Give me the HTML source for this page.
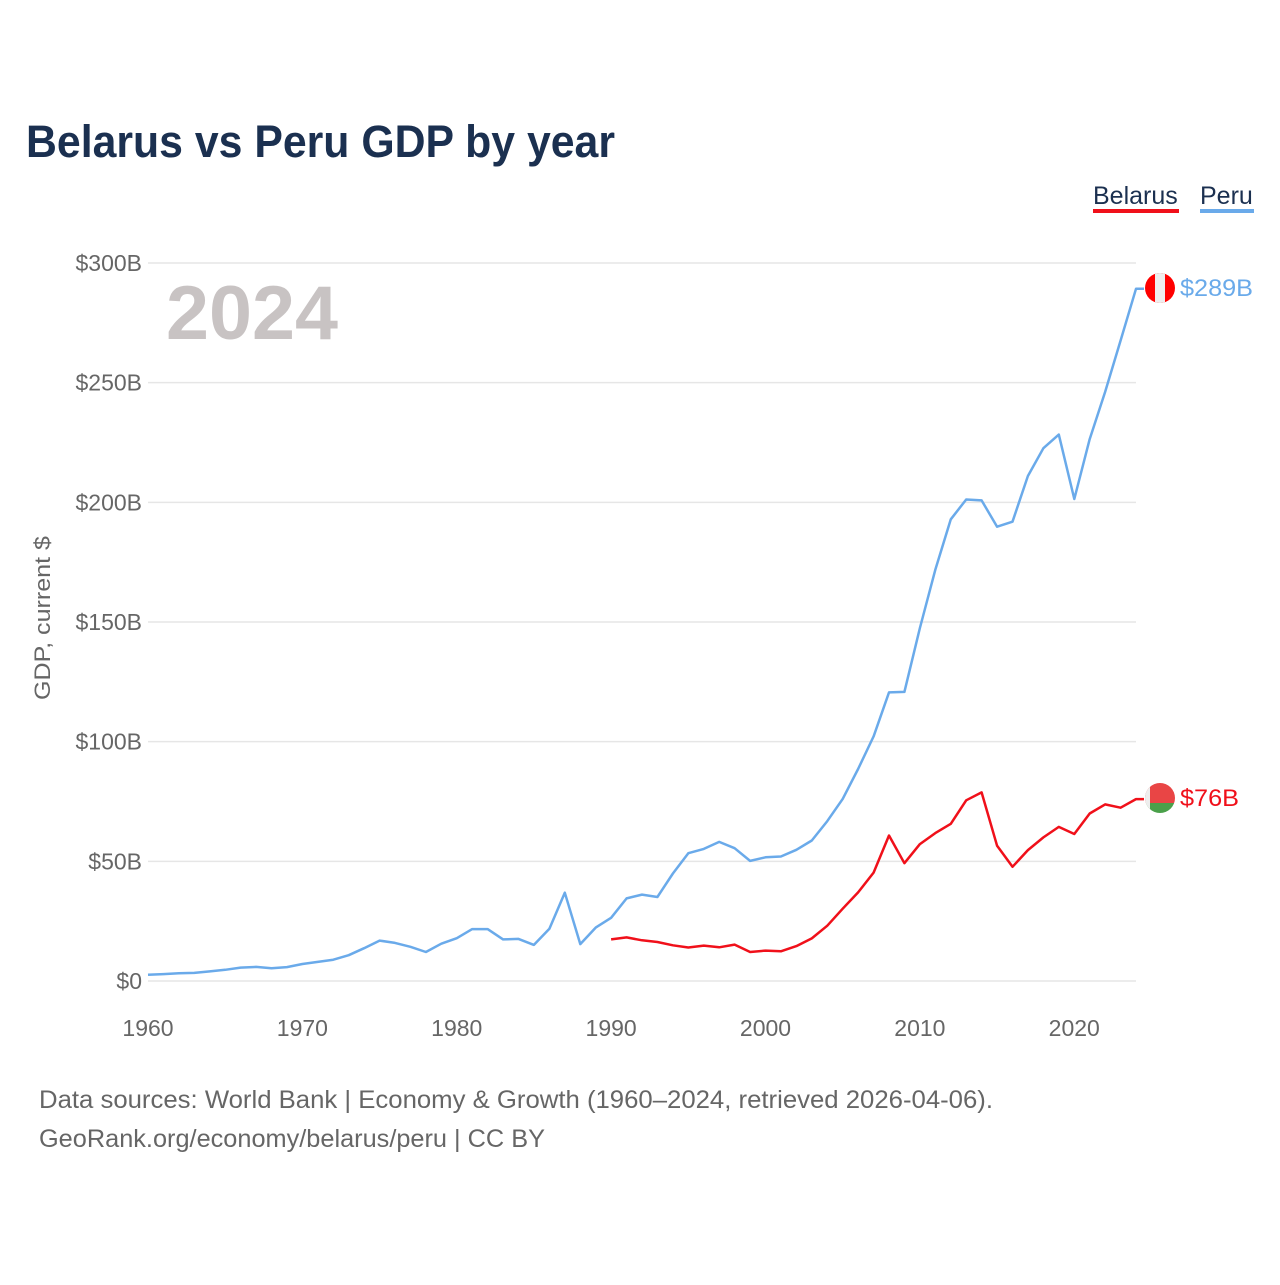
<!DOCTYPE html>
<html><head><meta charset="utf-8"><style>
body{margin:0;background:#fff;}
svg text{font-family:"Liberation Sans",sans-serif;}
</style></head><body>
<svg id="chart" width="1280" height="1280" viewBox="0 0 1280 1280" xmlns="http://www.w3.org/2000/svg">
<rect width="1280" height="1280" fill="#fff"/>
<text x="26" y="157" font-size="45" font-weight="bold" fill="#1b3050" textLength="589" lengthAdjust="spacingAndGlyphs">Belarus vs Peru GDP by year</text>
<g><text x="1093" y="204" font-size="25" fill="#1b3050">Belarus</text><rect x="1093" y="209" width="86" height="4" fill="#f0101a"/></g>
<g><text x="1200" y="204" font-size="25" fill="#1b3050">Peru</text><rect x="1200" y="209" width="54" height="4" fill="#6aaaea"/></g>
<text x="166" y="339" font-size="76" font-weight="bold" fill="#c8c3c3" textLength="172" lengthAdjust="spacingAndGlyphs">2024</text>
<text transform="translate(50,618) rotate(-90)" text-anchor="middle" font-size="22" fill="#666" textLength="164" lengthAdjust="spacingAndGlyphs">GDP, current $</text>
<g id="grid"></g><g id="xt"></g><g id="lines"></g>
<g>
<clipPath id="cp"><circle cx="1160" cy="288" r="15"/></clipPath>
<g clip-path="url(#cp)"><rect x="1145" y="273" width="30" height="30" fill="#f00"/><rect x="1155" y="273" width="10" height="30" fill="#eee"/></g></g>
<text x="1180" y="296" font-size="24" fill="#6aaaea" textLength="73" lengthAdjust="spacingAndGlyphs">$289B</text>
<g>
<clipPath id="cb"><circle cx="1160" cy="798" r="15"/></clipPath>
<g clip-path="url(#cb)"><rect x="1145" y="783" width="30" height="20" fill="#e94545"/><rect x="1145" y="803" width="30" height="10" fill="#4aa04a"/><rect x="1145" y="783" width="5" height="30" fill="#eee"/></g></g>
<text x="1180" y="806" font-size="24" fill="#f0101a" textLength="59" lengthAdjust="spacingAndGlyphs">$76B</text>
<text x="39" y="1108" font-size="25" fill="#666" textLength="954" lengthAdjust="spacingAndGlyphs">Data sources: World Bank | Economy &amp; Growth (1960–2024, retrieved 2026-04-06).</text>
<text x="39" y="1147" font-size="25" fill="#666" textLength="506" lengthAdjust="spacingAndGlyphs">GeoRank.org/economy/belarus/peru | CC BY</text>
</svg>
<script>
const yTicks=[0,50,100,150,200,250,300];
const yTickLabels=["$0","$50B","$100B","$150B","$200B","$250B","$300B"];
const xTicks=[1960,1970,1980,1990,2000,2010,2020];
const peruStart=1960;
const peruValues=[2.6,2.9,3.2,3.4,4.0,4.7,5.6,5.9,5.3,5.8,7.1,8.0,8.9,10.8,13.7,16.9,15.9,14.3,12.1,15.6,17.9,21.7,21.7,17.4,17.6,15.1,21.8,36.9,15.4,22.3,26.4,34.5,36.1,35.1,44.9,53.4,55.2,58.1,55.5,50.2,51.7,52.0,54.8,58.7,66.8,76.1,88.6,102.2,120.6,120.8,147.5,171.8,192.9,201.2,200.8,189.8,191.9,211.0,222.6,228.3,201.4,226.4,246.1,267.6,289.2,289.2];
const belarusStart=1990;
const belarusValues=[17.4,18.2,17.0,16.3,14.9,14.0,14.8,14.1,15.2,12.1,12.7,12.4,14.6,17.8,23.1,30.2,37.0,45.3,60.8,49.2,57.2,61.8,65.7,75.5,78.8,56.5,47.7,54.7,60.0,64.4,61.4,70.0,73.8,72.4,76.0,76.0];
const NS="http://www.w3.org/2000/svg";
const x0=148,x1=1136,yr0=1960,yr1=2024,yb=981,yt=263;
const X=y=>x0+(y-yr0)*(x1-x0)/(yr1-yr0);
const Y=v=>yb-v*(yb-yt)/300;
function mk(t,a,p){const e=document.createElementNS(NS,t);for(const k in a)e.setAttribute(k,a[k]);p.appendChild(e);return e;}
const grid=document.getElementById('grid');
yTicks.forEach((v,i)=>{
 const l=mk('line',{x1:x0,x2:x1,y1:Y(v),y2:Y(v),stroke:'#e6e6e6','stroke-width':1.5},grid);
 
 
 const t=mk('text',{x:142,y:Y(v)+8,'text-anchor':'end','font-size':23,fill:'#666'},grid);
 t.textContent=yTickLabels[i];
 
 
});
const xt=document.getElementById('xt');
xTicks.forEach(y=>{
 const t=mk('text',{x:X(y),y:1036,'text-anchor':'middle','font-size':23,fill:'#666'},xt);
 t.textContent=y;
 
 
});
const lines=document.getElementById('lines');
function series(vals,start,col,name){
 const pts=vals.map((v,i)=>{const yr=start+i;const xx=yr>yr1?X(yr1)+8:X(yr);return xx.toFixed(1)+','+Y(v).toFixed(1);}).join(' ');
 const p=mk('polyline',{points:pts,fill:'none',stroke:col,'stroke-width':2.5,'stroke-linejoin':'round'},lines);
 
 
}
series(peruValues,peruStart,'#6aaaea','peru-line');
series(belarusValues,belarusStart,'#f0101a','belarus-line');
</script>
</body></html>
